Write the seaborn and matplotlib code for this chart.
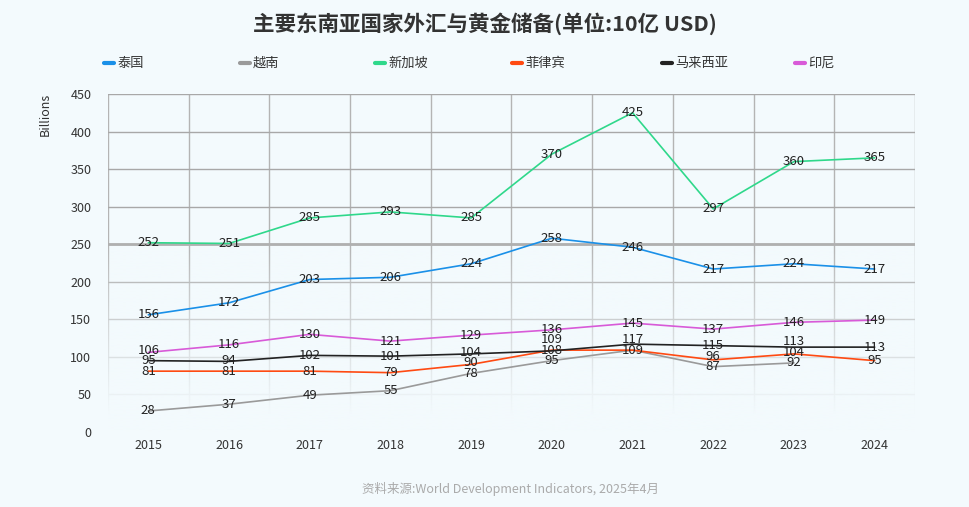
import numpy as np
import pandas as pd
import matplotlib.pyplot as plt
import seaborn as sns
from matplotlib.lines import Line2D

sns.set_theme(style="white")
plt.rcParams["font.family"] = ["Noto Sans CJK SC", "DejaVu Sans"]

years = [2015, 2016, 2017, 2018, 2019, 2020, 2021, 2022, 2023, 2024]
thailand = [156, 172, 203, 206, 224, 258, 246, 217, 224, 217]
vietnam = [28, 37, 49, 55, 78, 95, 109, 87, 92, np.nan]
singapore = [252, 251, 285, 293, 285, 370, 425, 297, 360, 365]
philippines = [81, 81, 81, 79, 90, 109, 109, 96, 104, 95]
malaysia = [95, 94, 102, 101, 104, 108, 117, 115, 113, 113]
indonesia = [106, 116, 130, 121, 129, 136, 145, 137, 146, 149]

names = ["泰国", "越南", "新加坡", "菲律宾", "马来西亚", "印尼"]
colors = ["#1a90e8", "#9a9a9a", "#2fd88b", "#ff4a12", "#222222", "#d85ad8"]
series = [thailand, vietnam, singapore, philippines, malaysia, indonesia]

df = pd.concat(
    [pd.DataFrame({"year": years, "value": v, "country": n}) for n, v in zip(names, series)],
    ignore_index=True,
)

bg = "#f3fafd"
fig = plt.figure(figsize=(9.69, 5.07), dpi=100, facecolor=bg)
ax = fig.add_axes([108 / 969, 1 - 432 / 507, 807 / 969, 338 / 507], facecolor=bg)

sns.lineplot(
    data=df.dropna(), x="year", y="value", hue="country", hue_order=names,
    palette=dict(zip(names, colors)), linewidth=1.2, legend=False, ax=ax, zorder=3,
)

# data labels: per year, hide duplicates and push overlapping labels apart
gap = 14
for i, x in enumerate(years):
    vals = sorted(
        [(v[i], n) for n, v in zip(names, series) if not np.isnan(v[i])],
        key=lambda t: t[0],
    )
    placed = []
    last = -1e9
    for y, n in vals:
        if placed and placed[-1][0] == y:
            continue  # identical label at the same spot
        pos = max(y, last + gap)
        placed.append((y, pos))
        last = pos
    for y, pos in placed:
        ax.text(x, pos, f"{y:.0f}", ha="center", va="center", fontsize=9.5,
                color="#222222", zorder=4)

ax.set_xlim(years[0] - 0.5, years[-1] + 0.5)
ax.set_xticks(years)
ax.set_xticklabels([str(y) for y in years])
ax.set_yticks(range(0, 451, 50))
ax.set_xticks([y - 0.5 for y in years] + [years[-1] + 0.5], minor=True)
ax.tick_params(axis="both", which="both", length=0, labelsize=9, colors="#333333")
ax.tick_params(axis="x", pad=5)
ax.tick_params(axis="y", pad=12)
ax.grid(False)
ax.grid(True, axis="y", which="major", color="#a8a8a8", linewidth=1, zorder=0.5)
ax.grid(True, axis="x", which="minor", color="#b4b4b4", linewidth=1, zorder=0.5)
ax.axhline(250, color="#b0b0b0", linewidth=2, zorder=0.6)
for s in ax.spines.values():
    s.set_visible(False)

# fade the grid towards the bottom
grad = np.linspace(0, 1, 256)[:, None]
alpha = np.clip(grad / 0.9, 0, 1) ** 0.9
rgba = np.zeros((256, 1, 4))
rgba[..., :3] = [0xf3 / 255, 0xfa / 255, 0xfd / 255]
rgba[..., 3] = alpha
ax.imshow(rgba, extent=[years[0] - 0.5, years[-1] + 0.5, 0, 249], origin="upper",
          aspect="auto", zorder=1, interpolation="bilinear")
ax.set_xlim(years[0] - 0.5, years[-1] + 0.5)
ax.set_ylim(0, 450)

ax.set_xlabel("")
ax.set_ylabel("Billions", fontsize=9, color="#333333")
ax.yaxis.set_label_coords(-0.07, 0.94)

fig.text(0.5, 1 - 24 / 507, "主要东南亚国家外汇与黄金储备(单位:10亿 USD)", ha="center",
         va="center", fontsize=15.5, fontweight="bold", color="#333333")
fig.text(510 / 969, 1 - 489 / 507, "资料来源:World Development Indicators, 2025年4月",
         ha="center", va="center", fontsize=9, color="#aaaaaa")

# legend
legend_x = [104, 240, 375, 512, 662, 795]
ly = 1 - 63 / 507
for x, n, c in zip(legend_x, names, colors):
    fig.add_artist(Line2D([x / 969, (x + 10) / 969], [ly, ly], color=c, linewidth=3,
                          solid_capstyle="round", transform=fig.transFigure))
    fig.text((x + 13) / 969, ly, n, ha="left", va="center", fontsize=9.5, color="#333333")

fig.savefig("out.png", dpi=100, facecolor=bg)
